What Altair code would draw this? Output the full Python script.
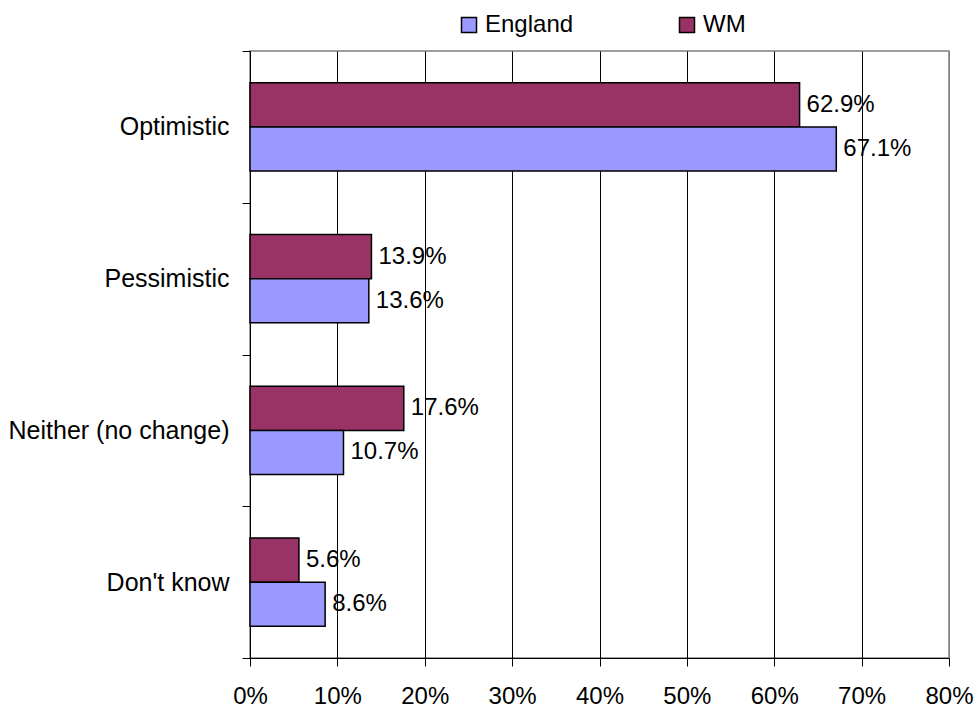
import altair as alt
import pandas as pd

categories = ["Optimistic", "Pessimistic", "Neither (no change)", "Don't know"]
series = ["England", "WM"]
england = [0.671, 0.136, 0.107, 0.086]
wm = [0.629, 0.139, 0.176, 0.056]
colors = ["#9999FF", "#993366"]

rows = []
for i, c in enumerate(categories):
    rows.append({"category": c, "series": "WM", "value": wm[i]})
    rows.append({"category": c, "series": "England", "value": england[i]})
df = pd.DataFrame(rows)

FONT = "Liberation Sans"

y_enc = alt.Y("category:N", sort=categories,
              scale=alt.Scale(paddingInner=0, paddingOuter=0),
              axis=alt.Axis(title=None, tickBand="extent", tickSize=8, tickColor="black",
                            labelPadding=13, labelFontSize=25, labelFont=FONT, labelLimit=0,
                            labelColor="black", domainColor="black", grid=False))
yoff = alt.YOffset("series:N", scale=alt.Scale(domain=["WM", "England"], paddingInner=0, paddingOuter=0.724))

x_enc = alt.X("value:Q", scale=alt.Scale(domain=[0, 0.8], nice=False),
              axis=alt.Axis(title=None, format=".0%", values=[0, 0.1, 0.2, 0.3, 0.4, 0.5, 0.6, 0.7, 0.8],
                            tickSize=8, tickColor="black", labelPadding=18,
                            labelFlush=False, labelOverlap=False,
                            labelFontSize=24, labelFont=FONT, labelColor="black",
                            domainColor="black",
                            gridColor=alt.condition("datum.value >= 0.8", alt.value("#808080"), alt.value("black")),
                            gridOpacity=1, gridWidth=1))

color_enc = alt.Color("series:N", scale=alt.Scale(domain=series, range=colors),
                      legend=alt.Legend(title=None, orient="none", direction="horizontal",
                                        legendX=207, legendY=-38, symbolType="square",
                                        symbolSize=225, symbolStrokeColor="black",
                                        symbolStrokeWidth=1.5, symbolOpacity=1,
                                        labelFontSize=24, labelFont=FONT, labelColor="black",
                                        labelOffset=4, columnPadding=101))

bars = alt.Chart(df).mark_bar(stroke="black", strokeWidth=1.5, opacity=1).encode(
    x=x_enc, y=y_enc, yOffset=yoff, color=color_enc)

labels = alt.Chart(df).mark_text(align="left", baseline="middle", dx=7, fontSize=24,
                                 font=FONT, color="black").encode(
    x=alt.X("value:Q"), y=alt.Y("category:N", sort=categories), yOffset=yoff,
    text=alt.Text("value:Q", format=".1%"))

chart = alt.layer(bars, labels).properties(
    width=699, height=607,
    autosize=alt.AutoSizeParams(type="none"),
    padding={"left": 250, "top": 51, "right": 29, "bottom": 53},
    background="white",
).configure_view(stroke="#808080", strokeWidth=1.5)

chart.save("out.html", embed_options={"renderer": "svg", "actions": False})
